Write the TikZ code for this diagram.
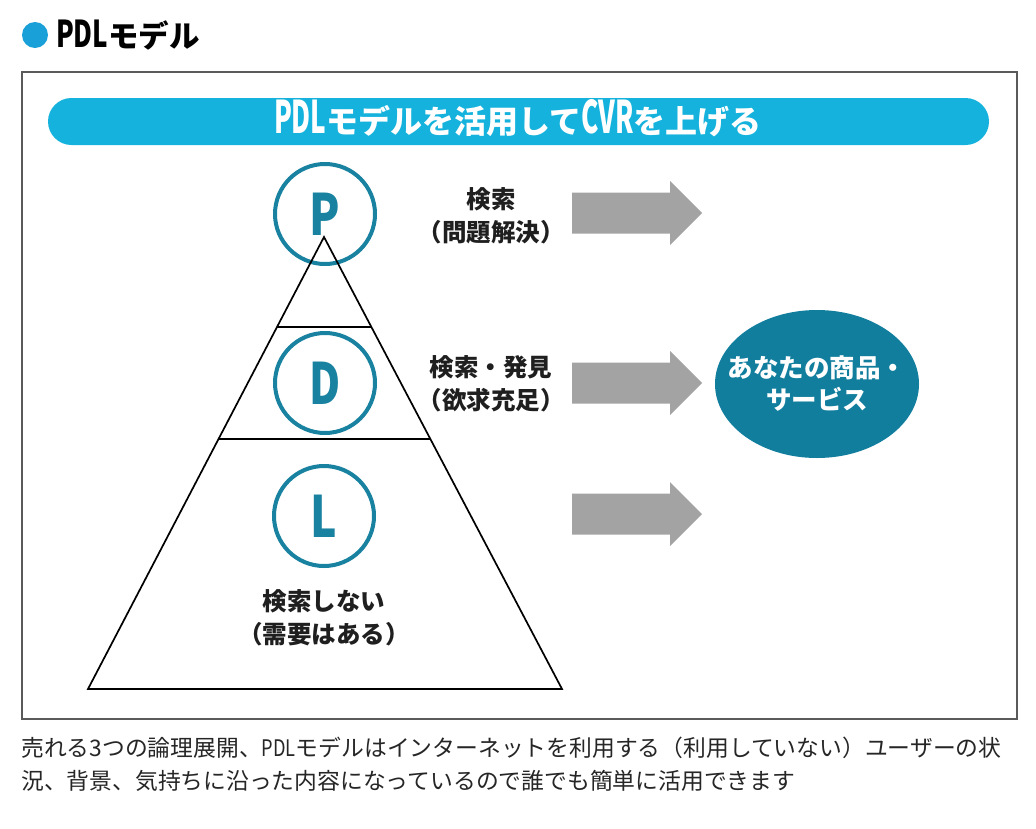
\documentclass[tikz,border=0pt]{standalone}
\usepackage{fontspec}
\usepackage{graphicx}
\setmainfont{Noto Sans CJK JP}
\usetikzlibrary{shapes.geometric}
\definecolor{cyanband}{RGB}{20,178,220}
\definecolor{dotblue}{RGB}{26,160,216}
\definecolor{tealc}{RGB}{24,130,160}
\definecolor{ovalc}{RGB}{18,126,158}
\definecolor{arrowgray}{RGB}{163,163,163}
\definecolor{framec}{RGB}{90,90,90}
\newcommand\condlat[3]{\smash{{\fontsize{#1}{#1}\selectfont\scalebox{#2}[1]{#3}}}}
\begin{document}
\begin{tikzpicture}[x=1pt,y=-1pt,
  lbl/.style={font=\bfseries\fontsize{24.5}{33}\selectfont, align=center, inner sep=0pt, text=black!88},
  ring/.style={circle, draw=tealc, line width=4pt, minimum size=100pt, inner sep=0pt, fill=white},
  letter/.style={text=tealc, font=\bfseries\fontsize{57}{57}\selectfont, inner sep=0pt},
  blockarrow/.style={fill=arrowgray},
  caption/.style={font=\fontsize{22.8}{33}\selectfont, anchor=west, inner sep=0pt, text=black!85},
]
\useasboundingbox (0,0) rectangle (1036,828);
\fill[white] (0,0) rectangle (1036,828);
% heading
\fill[dotblue] (35,35) circle[radius=13];
\node[anchor=west, inner sep=0pt, font=\bfseries\fontsize{30.5}{32}\selectfont] (head) at (56,35) {\condlat{37}{0.7}{PDL}モデル};
% frame
\draw[framec, line width=1.3pt] (22,72) rectangle (1017,719);
% banner
\fill[cyanband, rounded corners=23.5pt] (48,98) rectangle (989,145);
\node[inner sep=0pt, text=white, font=\bfseries\fontsize{32}{34}\selectfont] (banner) at (518,121.5) {\condlat{45}{0.58}{PDL}モデルを活用して\condlat{45}{0.58}{CVR}を上げる};
% block arrows
\foreach \cy/\nm in {213/a1,383/a2,514/a3} {
  \fill[blockarrow] (572,\cy-20.5) -- (670,\cy-20.5) -- (670,\cy-32) -- (702,\cy) -- (670,\cy+32) -- (670,\cy+20.5) -- (572,\cy+20.5) -- cycle;
}
% goal ellipse
\node[ellipse, fill=ovalc, minimum width=204pt, minimum height=148pt, inner sep=0pt] (goal) at (817,384) {};
\node[inner sep=0pt, text=white, align=center, font=\bfseries\fontsize{25.5}{32}\selectfont] (goaltext) at (goal.center) {あなたの商品・\\サービス};
% circles
\node[ring] (cp) at (325,214) {};
\node[ring] (cd) at (325,383) {};
\node[ring] (cl) at (324,516) {};
% pyramid
\coordinate (apex) at (324,237);
\coordinate (bl) at (88,689);
\coordinate (br) at (562,689);
\coordinate (l1a) at (276.8,327);
\coordinate (l1b) at (371.2,327);
\coordinate (l2a) at (218.1,439);
\coordinate (l2b) at (429.9,439);
\draw[black, line width=1.7pt, line join=miter] (apex) -- (br) -- (bl) -- cycle;
\draw[black, line width=1.7pt] (l1a) -- (l1b);
\draw[black, line width=1.7pt] (l2a) -- (l2b);
% letters
\node[letter] (lp) at (cp) {\scalebox{0.78}[1]{P}};
\node[letter] (ld) at (cd) {\scalebox{0.75}[1]{D}};
\node[letter] (ll) at (cl) {\scalebox{0.78}[1]{L}};
% labels
\node[lbl] (tp) at (491,215.5) {検索\\（問題解決）};
\node[lbl] (td) at (491,384) {検索・発見\\（欲求充足）};
\node[lbl] (tl) at (324,617.5) {検索しない\\（需要はある）};
% caption
\node[caption] (cap1) at (21,748) {売れる3つの論理展開、\scalebox{0.8}[1]{PDL}モデルはインターネットを利用する（利用していない）ユーザーの状};
\node[caption] (cap2) at (21,781) {況、背景、気持ちに沿った内容になっているので誰でも簡単に活用できます};
\end{tikzpicture}
\end{document}
